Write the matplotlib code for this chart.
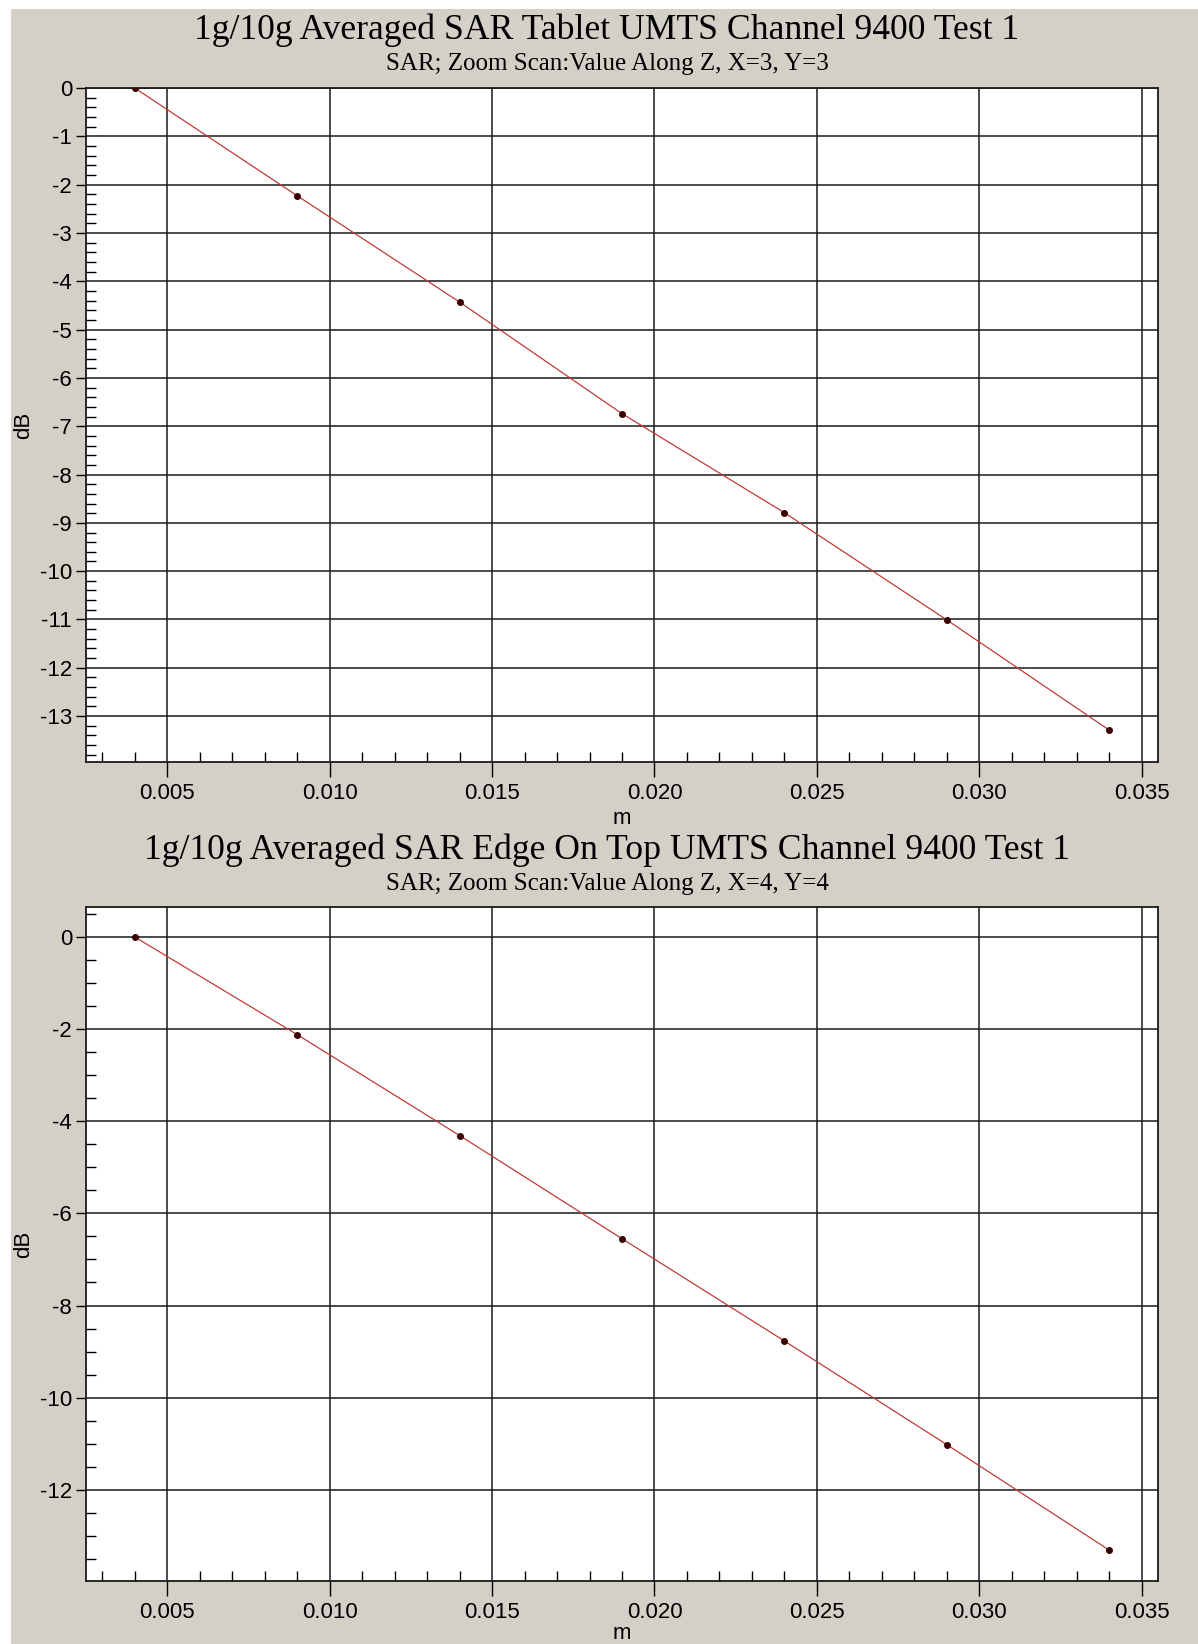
import matplotlib
matplotlib.use("Agg")
import matplotlib.pyplot as plt
from matplotlib.ticker import MultipleLocator, FormatStrFormatter
from matplotlib.patches import Rectangle

# ---- data ----
z_m = [0.004, 0.009, 0.014, 0.019, 0.024, 0.029, 0.034]
tablet_db = [0.0, -2.23, -4.43, -6.74, -8.79, -11.01, -13.29]
edge_top_db = [0.0, -2.12, -4.31, -6.55, -8.77, -11.02, -13.31]

titles = ["1g/10g Averaged SAR Tablet UMTS Channel 9400 Test 1",
          "1g/10g Averaged SAR Edge On Top UMTS Channel 9400 Test 1"]
subtitles = ["SAR; Zoom Scan:Value Along Z, X=3, Y=3",
             "SAR; Zoom Scan:Value Along Z, X=4, Y=4"]
x_label = "m"
y_label = "dB"

BG = "#D4D0C8"
W, H = 1198, 1644
fig = plt.figure(figsize=(W / 100, H / 100), dpi=100, facecolor="white")
fig.patches.append(Rectangle((11 / W, 0), 1 - 11 / W, 1 - 9 / H,
                             transform=fig.transFigure, facecolor=BG,
                             edgecolor="none", zorder=-10))

SERIF = "Liberation Serif"
SANS = "Liberation Sans"

def fy(py):
    return 1 - py / H

panels = [
    dict(y=tablet_db, top=88, bottom=762, ylim=(-13.95, 0.0), major=1, minor=0.2,
         title_y=30, sub_y=64, xpad=3),
    dict(y=edge_top_db, top=907, bottom=1581, ylim=(-13.98, 0.65), major=2, minor=0.5,
         title_y=850, sub_y=884, xpad=0),
]

left, right = 86, 1158
for i, p in enumerate(panels):
    ax = fig.add_axes([left / W, fy(p["bottom"]), (right - left) / W,
                       (p["bottom"] - p["top"]) / H])
    ax.set_facecolor("white")
    ax.plot(z_m, p["y"], color="#BC3C3C", lw=0.9, zorder=3)
    ax.plot(z_m, p["y"], ls="none", marker="o", ms=4, color="#3A0000", zorder=4)
    ax.set_xlim(0.0025, 0.0355)
    ax.set_ylim(*p["ylim"])
    ax.xaxis.set_major_locator(MultipleLocator(0.005))
    ax.xaxis.set_minor_locator(MultipleLocator(0.001))
    ax.xaxis.set_major_formatter(FormatStrFormatter("%.3f"))
    ax.yaxis.set_major_locator(MultipleLocator(p["major"]))
    ax.yaxis.set_minor_locator(MultipleLocator(p["minor"]))
    ax.yaxis.set_major_formatter(FormatStrFormatter("%d"))
    ax.grid(True, which="major", color="#1a1a1a", lw=1.1, zorder=1)
    ax.tick_params(axis="x", which="major", direction="out", length=11, width=1,
                   pad=4, labelsize=16)
    ax.tick_params(axis="y", which="major", direction="out", length=7, width=1,
                   pad=3, labelsize=16)
    ax.tick_params(axis="both", which="minor", direction="in", length=7, width=1)
    for lab in ax.get_xticklabels() + ax.get_yticklabels():
        lab.set_family(SANS)
    for s in ax.spines.values():
        s.set_color("#1a1a1a")
        s.set_linewidth(1.3)
    ax.set_xlabel(x_label, fontsize=16, family=SANS, labelpad=p["xpad"])
    ax.set_ylabel(y_label, fontsize=16, family=SANS, labelpad=4)
    fig.text(607 / W, fy(p["title_y"]), titles[i], ha="center", va="center",
             fontsize=25.7, family=SERIF)
    fig.text(607 / W, fy(p["sub_y"]), subtitles[i], ha="center", va="center",
             fontsize=18, family=SERIF)

fig.savefig("out.png", dpi=100, facecolor=fig.get_facecolor())
